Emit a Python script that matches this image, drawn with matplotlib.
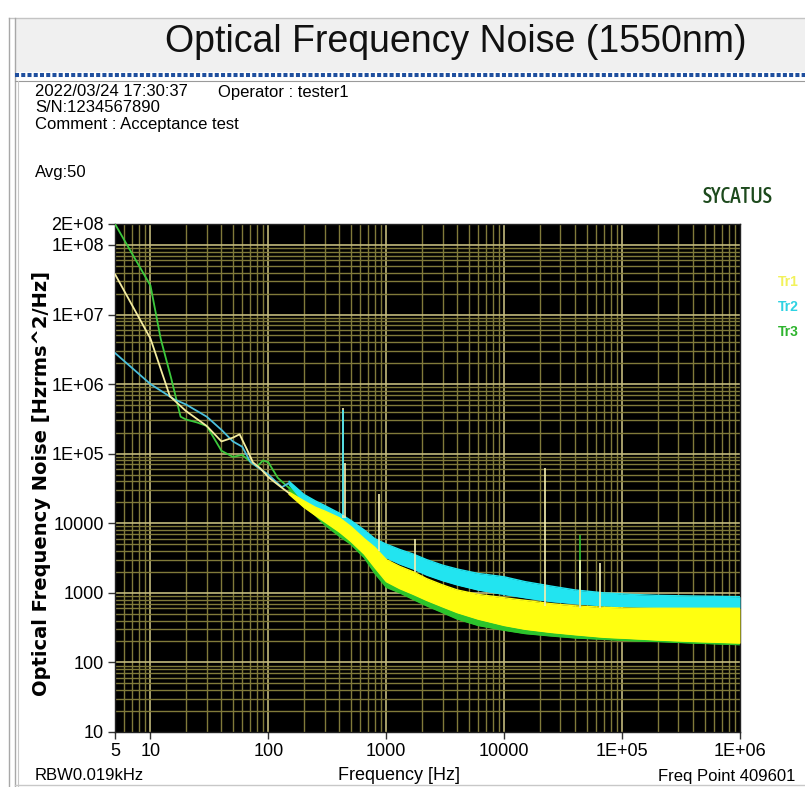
import numpy as np
import matplotlib
matplotlib.use('Agg')
import matplotlib.pyplot as plt
from matplotlib import font_manager
from matplotlib.font_manager import FontProperties
from matplotlib.patches import Rectangle

# ---------------- data ----------------
x_tick_vals = [5, 10, 100, 1000, 10000, 1e5, 1e6]
x_tick_labels = ['5', '10', '100', '1000', '10000', '1E+05', '1E+06']
y_tick_vals = [10, 100, 1000, 1e4, 1e5, 1e6, 1e7, 1e8, 2e8]
y_tick_labels = ['10', '100', '1000', '10000', '1E+05', '1E+06', '1E+07', '1E+08', '2E+08']

# low-frequency single-line parts of each trace
tr1_line_f = [5, 10, 14.6, 20, 30, 40, 50, 57, 65, 74, 85, 100, 120, 150]
tr1_line_v = [3.8e7, 4.5e6, 6.7e5, 4.1e5, 2.5e5, 1.5e5, 1.7e5, 1.9e5, 1.2e5, 7.5e4, 6.2e4, 4.6e4, 3.6e4, 2.7e4]
tr2_line_f = [5, 10, 16, 20, 30, 40, 50, 60, 70, 80, 100, 130, 150]
tr2_line_v = [2.8e6, 1.0e6, 6.0e5, 5.1e5, 3.4e5, 2.2e5, 1.5e5, 1.26e5, 7.7e4, 6.5e4, 5.0e4, 3.3e4, 3.8e4]
tr3_line_f = [5, 10, 12.2, 15, 18, 20, 25, 30, 40, 50, 60, 70, 80, 90, 100, 120, 150]
tr3_line_v = [2.0e8, 2.6e7, 4.5e6, 1.2e6, 3.4e5, 3.1e5, 2.8e5, 2.5e5, 1.1e5, 9.0e4, 9.6e4, 7.7e4, 6.5e4, 8.0e4, 7.5e4, 4.5e4, 3.2e4]

# high-frequency noisy parts: envelope (low / high) of each trace
band_f = [150, 200, 250, 300, 400, 500, 650, 800, 1000, 1300, 1700, 2200, 3000, 4000, 6000, 10000,
          15000, 25000, 40000, 70000, 1.2e5, 2e5, 4e5, 1e6]
tr1_band_lo = [2.6e4, 1.7e4, 1.3e4, 1.05e4, 7.5e3, 5.5e3, 3.6e3, 2.3e3, 1.45e3, 1.15e3, 950, 780, 630, 520, 420, 340,
               300, 270, 250, 230, 220, 210, 200, 190]
tr1_band_hi = [2.8e4, 2.1e4, 1.7e4, 1.5e4, 1.2e4, 9.0e3, 6.0e3, 4.5e3, 3.0e3, 2.4e3, 2.0e3, 1.6e3, 1.3e3, 1.1e3, 950, 850,
               780, 700, 650, 620, 600, 600, 600, 600]
tr2_band_lo = [3.6e4, 2.0e4, 1.6e4, 1.3e4, 1.0e4, 7.5e3, 5.0e3, 4.0e3, 3.2e3, 2.6e3, 2.2e3, 1.8e3, 1.5e3, 1.3e3, 1.1e3, 950,
               850, 750, 700, 650, 630, 620, 610, 600]
tr2_band_hi = [4.0e4, 2.6e4, 2.1e4, 1.8e4, 1.4e4, 1.1e4, 8.0e3, 6.0e3, 5.0e3, 4.2e3, 3.6e3, 3.0e3, 2.5e3, 2.2e3, 1.9e3, 1.7e3,
               1.45e3, 1.25e3, 1.1e3, 1.0e3, 950, 920, 900, 880]
tr3_band_lo = [3.0e4, 1.8e4, 1.3e4, 9.5e3, 6.5e3, 5.0e3, 3.2e3, 1.9e3, 1.2e3, 1.0e3, 800, 650, 520, 420, 340, 290,
               260, 240, 225, 215, 205, 200, 190, 180]
tr3_band_hi = [3.3e4, 2.2e4, 1.6e4, 1.4e4, 1.1e4, 8.0e3, 5.5e3, 4.0e3, 2.8e3, 2.2e3, 1.8e3, 1.5e3, 1.2e3, 1.0e3, 850, 750,
               680, 620, 600, 580, 570, 560, 560, 560]

# discrete spurs
spike_f = [430, 430, 445, 870, 1750, 22000, 43800, 43800, 65000]
spike_base = [1.2e4, 1.3e4, 1.2e4, 4.0e3, 2.0e3, 650, 600, 600, 600]
spike_top = [4.5e5, 4.2e5, 7.4e4, 2.6e4, 6.0e3, 6.3e4, 6.7e3, 3.0e3, 2.7e3]
spike_trace = ['Tr1', 'Tr2', 'Tr1', 'Tr1', 'Tr1', 'Tr1', 'Tr3', 'Tr1', 'Tr1']

trace_names = ['Tr1', 'Tr2', 'Tr3']

# ---------------- style ----------------
W, H = 805, 787
avail = {f.name for f in font_manager.fontManager.ttflist}
SANS = 'Liberation Sans' if 'Liberation Sans' in avail else 'DejaVu Sans'
plt.rcParams['font.family'] = [SANS, 'DejaVu Sans']

# a condensed (regular / medium weight) face for the logo, if one is installed
narrow_prop = None
cands = []
for fe in font_manager.fontManager.ttflist:
    st = str(fe.stretch).lower()
    nm = fe.name.lower()
    if ('condensed' in st or 'narrow' in nm or 'condensed' in nm) and str(fe.style) == 'normal':
        try:
            w = int(fe.weight)
        except (TypeError, ValueError):
            w = {'normal': 400, 'regular': 400, 'medium': 500, 'bold': 700}.get(str(fe.weight), 400)
        cands.append((abs(w - 500), fe.fname))
if cands:
    cands.sort()
    narrow_prop = FontProperties(fname=cands[0][1], size=15.5)
else:
    narrow_prop = FontProperties(family=[SANS], size=12.5)

line_colors = {'Tr1': '#f4eca0', 'Tr2': '#4cc0dc', 'Tr3': '#3cc83c'}
band_colors = {'Tr1': '#ffff10', 'Tr2': '#22e4f0', 'Tr3': '#2cc42c'}
spike_colors = {'Tr1': '#f6f0b0', 'Tr2': '#40e0f0', 'Tr3': '#30c030'}
label_colors = {'Tr1': '#f2f25a', 'Tr2': '#2ed2e2', 'Tr3': '#2eb42e'}

fig = plt.figure(figsize=(W / 100, H / 100), dpi=100)
fig.patch.set_facecolor('white')

# background/overlay axes in pixel coordinates
bg = fig.add_axes([0, 0, 1, 1])
bg.set_xlim(0, W)
bg.set_ylim(H, 0)
bg.axis('off')

bg.add_patch(Rectangle((15, 18), W - 15, 54, facecolor='#f0f0f0', edgecolor='none'))
bg.plot([9, W], [18, 18], color='#c4c4c4', lw=1)
bg.plot([9, 9], [18, H], color='#a8a8a8', lw=1)
bg.plot([15, 15], [18, H], color='#a8a8a8', lw=1)
bg.plot([15, W], [75, 75], color='#1f4f9e', lw=2.9, solid_capstyle='butt',
        linestyle=(0, (1.0, 0.55)))
bg.plot([15, W], [81, 81], color='#9a9a9a', lw=0.8)
bg.plot([18, 18], [81, H], color='#c8c8c8', lw=0.8)
bg.plot([15, W], [785, 785], color='#c8c8c8', lw=1)

bg.text(456, 42, 'Optical Frequency Noise (1550nm)', fontsize=27, ha='center', va='center',
        color='#111111')
bg.text(35, 92, '2022/03/24 17:30:37', fontsize=12, va='center')
bg.text(218, 92, 'Operator : tester1', fontsize=12, va='center')
bg.text(35, 108, 'S/N:1234567890', fontsize=12, va='center')
bg.text(35, 125, 'Comment : Acceptance test', fontsize=12, va='center')
bg.text(35, 172, 'Avg:50', fontsize=12, va='center')
bg.text(738, 197, 'SYCATUS', ha='center', va='center', color='#1d4a1d',
        fontproperties=narrow_prop)
for i, name in enumerate(trace_names):
    bg.text(778, 282 + 25 * i, name, fontsize=10, fontweight='bold', va='center',
            color=label_colors[name])

bg.text(42, 484, 'Optical Frequency Noise [Hzrms^2/Hz]', rotation=90, fontsize=14,
        fontweight='bold', ha='center', va='center', family=['DejaVu Sans'])
bg.text(399, 776, 'Frequency [Hz]', fontsize=13, ha='center', va='center')
bg.text(35, 776, 'RBW0.019kHz', fontsize=12, va='center')
bg.text(795, 776, 'Freq Point 409601', fontsize=12, ha='right', va='center')

# main plot axes
x0, x1, y0, y1 = 115, 740, 224, 732
ax = fig.add_axes([x0 / W, 1 - y1 / H, (x1 - x0) / W, (y1 - y0) / H])
ax.set_facecolor('black')
ax.set_xscale('log')
ax.set_yscale('log')
ax.set_xlim(5, 1e6)
ax.set_ylim(10, 2e8)

# grid
major_c, minor_c = '#c2b97c', '#807a3a'
for k in range(0, 7):
    for m in range(1, 10):
        v = m * 10 ** k
        if 5 < v < 1e6:
            ax.axvline(v, color=major_c if m == 1 else minor_c, lw=1.2 if m == 1 else 1.0, zorder=0.5)
for k in range(1, 9):
    for m in range(1, 10):
        v = m * 10 ** k
        if 10 < v < 2e8:
            ax.axhline(v, color=major_c if m == 1 else minor_c, lw=1.2 if m == 1 else 1.0, zorder=0.5)

# traces
bands = {'Tr1': (tr1_band_lo, tr1_band_hi), 'Tr2': (tr2_band_lo, tr2_band_hi),
         'Tr3': (tr3_band_lo, tr3_band_hi)}
lines = {'Tr1': (tr1_line_f, tr1_line_v), 'Tr2': (tr2_line_f, tr2_line_v),
         'Tr3': (tr3_line_f, tr3_line_v)}
order = {'Tr3': 2, 'Tr2': 3, 'Tr1': 4}
for name in ['Tr3', 'Tr2', 'Tr1']:
    lo, hi = bands[name]
    z = order[name]
    ax.fill_between(band_f, lo, hi, color=band_colors[name], lw=0, zorder=z)
    ax.plot(band_f, lo, color=band_colors[name], lw=1.0, zorder=z)
    ax.plot(band_f, hi, color=band_colors[name], lw=1.0, zorder=z)
for name in ['Tr3', 'Tr2', 'Tr1']:
    f, v = lines[name]
    ax.plot(f, v, color=line_colors[name], lw=1.3, zorder=5)

for f, b, t, name in zip(spike_f, spike_base, spike_top, spike_trace):
    ax.vlines(f, b, t, color=spike_colors[name], lw=1.2, zorder=6)

ax.set_xticks(x_tick_vals)
ax.set_xticklabels(x_tick_labels)
ax.set_yticks(y_tick_vals)
ax.set_yticklabels(y_tick_labels)
ax.xaxis.set_minor_locator(matplotlib.ticker.NullLocator())
ax.yaxis.set_minor_locator(matplotlib.ticker.NullLocator())
ax.tick_params(axis='both', which='major', direction='out', length=5, width=1,
               color='#333333', labelsize=13, pad=3)
for s in ax.spines.values():
    s.set_color('#222222')
    s.set_linewidth(1)

fig.savefig('out.png', dpi=100, facecolor='white')
